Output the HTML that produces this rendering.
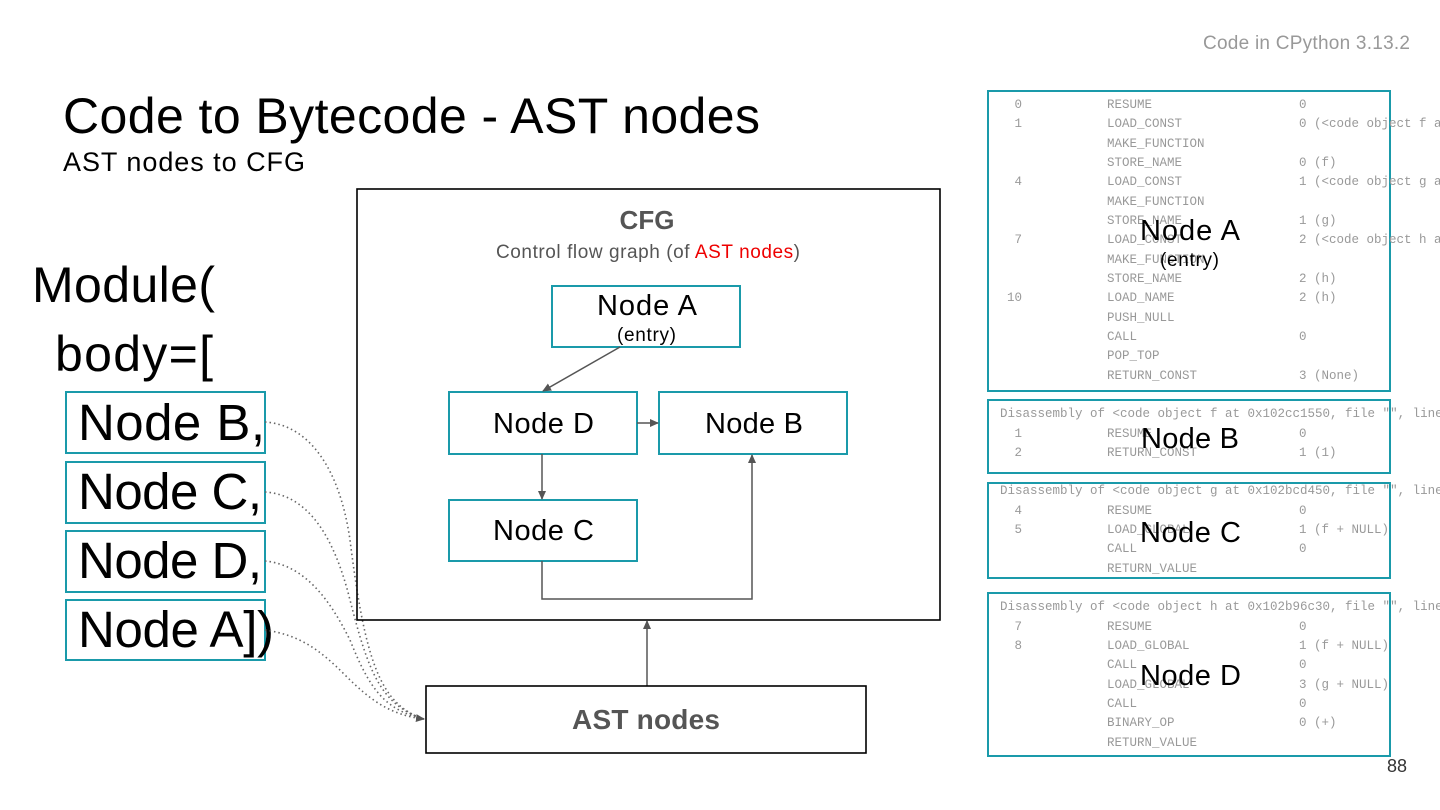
<!DOCTYPE html>
<html><head><meta charset="utf-8"><style>
html,body{margin:0;padding:0;background:#fff;}
svg{display:block;}
.c{font-family:"Liberation Mono",monospace;font-size:12.5px;fill:#999;}
.s{font-family:"Liberation Sans",sans-serif;}
</style></head><body>
<svg width="1440" height="810" viewBox="0 0 1440 810" xmlns="http://www.w3.org/2000/svg">
<defs>
<marker id="ar" markerWidth="10" markerHeight="10" refX="8" refY="5" orient="auto" markerUnits="userSpaceOnUse"><path d="M0,1 L9,5 L0,9 z" fill="#555"/></marker>
</defs>
<text class="s" x="1203" y="49" font-size="19" fill="#999" textLength="207">Code in CPython 3.13.2</text>
<text class="s" x="63" y="133" font-size="50" fill="#000" textLength="697">Code to Bytecode - AST nodes</text>
<text class="s" x="63" y="171" font-size="27" fill="#000" textLength="242">AST nodes to CFG</text>

<text class="s" x="32" y="302" font-size="50" textLength="183">Module(</text>
<text class="s" x="55" y="371" font-size="50" textLength="158">body=[</text>
<g fill="none" stroke="#1a9aaa" stroke-width="2">
<rect x="66" y="392" width="199" height="61"/>
<rect x="66" y="462" width="199" height="61"/>
<rect x="66" y="531" width="199" height="61"/>
<rect x="66" y="600" width="199" height="60"/>
</g>
<text class="s" x="78" y="440" font-size="51" textLength="187">Node B,</text>
<text class="s" x="78" y="509" font-size="51" textLength="184">Node C,</text>
<text class="s" x="78" y="578" font-size="51" textLength="184">Node D,</text>
<text class="s" x="78" y="647" font-size="51" textLength="196">Node A])</text>

<g fill="none" stroke="#666" stroke-width="1.6" stroke-dasharray="1.5,3">
<path d="M265,422 C310,425 340,470 350,540 C365,660 380,705 424,719"/>
<path d="M265,492 C310,495 335,540 350,600 C368,670 380,705 424,719"/>
<path d="M265,561 C305,565 330,600 350,640 C370,690 385,710 424,719"/>
<path d="M265,630 C300,635 320,650 345,675 C370,700 390,715 424,719" marker-end="url(#ar)"/>
</g>

<rect x="357" y="189" width="583" height="431" fill="none" stroke="#000" stroke-width="1.6"/>
<text class="s" x="647" y="229" text-anchor="middle" font-size="26" font-weight="bold" fill="#555">CFG</text>
<text class="s" x="496" y="258" font-size="19" fill="#555" textLength="304">Control flow graph (of <tspan fill="#e00">AST nodes</tspan>)</text>
<g fill="none" stroke="#1a9aaa" stroke-width="2">
<rect x="552" y="286" width="188" height="61"/>
<rect x="449" y="392" width="188" height="62"/>
<rect x="659" y="392" width="188" height="62"/>
<rect x="449" y="500" width="188" height="61"/>
</g>
<text class="s" x="597" y="315" font-size="29" textLength="100">Node A</text>
<text class="s" x="617" y="341" font-size="19" textLength="59">(entry)</text>
<text class="s" x="493" y="433" font-size="29" textLength="101">Node D</text>
<text class="s" x="705" y="433" font-size="29" textLength="98">Node B</text>
<text class="s" x="493" y="540" font-size="29" textLength="101">Node C</text>
<g fill="none" stroke="#555" stroke-width="1.5">
<path d="M620,347 L543,391" marker-end="url(#ar)"/>
<path d="M637,423 L658,423" marker-end="url(#ar)"/>
<path d="M542,454 L542,499" marker-end="url(#ar)"/>
<path d="M542,561 L542,599 L752,599 L752,455" marker-end="url(#ar)"/>
<path d="M647,686 L647,621" marker-end="url(#ar)"/>
</g>
<rect x="426" y="686" width="440" height="67" fill="none" stroke="#000" stroke-width="1.6"/>
<text class="s" x="572" y="729" font-size="28" font-weight="bold" fill="#555" textLength="148">AST nodes</text>

<g fill="none" stroke="#1a9aaa" stroke-width="2">
<rect x="988" y="91" width="402" height="300"/>
<rect x="988" y="400" width="402" height="73"/>
<rect x="988" y="483" width="402" height="95"/>
<rect x="988" y="593" width="402" height="163"/>
</g>
<g class="c">
<text x="1022" y="108" text-anchor="end">0</text><text x="1107" y="108">RESUME</text><text x="1299" y="108">0</text>
<text x="1022" y="127" text-anchor="end">1</text><text x="1107" y="127">LOAD_CONST</text><text x="1299" y="127">0 (&lt;code object f at</text>
<text x="1107" y="147">MAKE_FUNCTION</text>
<text x="1107" y="166">STORE_NAME</text><text x="1299" y="166">0 (f)</text>
<text x="1022" y="185" text-anchor="end">4</text><text x="1107" y="185">LOAD_CONST</text><text x="1299" y="185">1 (&lt;code object g at</text>
<text x="1107" y="205">MAKE_FUNCTION</text>
<text x="1107" y="224">STORE_NAME</text><text x="1299" y="224">1 (g)</text>
<text x="1022" y="243" text-anchor="end">7</text><text x="1107" y="243">LOAD_CONST</text><text x="1299" y="243">2 (&lt;code object h at</text>
<text x="1107" y="263">MAKE_FUNCTION</text>
<text x="1107" y="282">STORE_NAME</text><text x="1299" y="282">2 (h)</text>
<text x="1022" y="301" text-anchor="end">10</text><text x="1107" y="301">LOAD_NAME</text><text x="1299" y="301">2 (h)</text>
<text x="1107" y="321">PUSH_NULL</text>
<text x="1107" y="340">CALL</text><text x="1299" y="340">0</text>
<text x="1107" y="359">POP_TOP</text>
<text x="1107" y="379">RETURN_CONST</text><text x="1299" y="379">3 (None)</text>

<text x="1000" y="417">Disassembly of &lt;code object f at 0x102cc1550, file "", line</text>
<text x="1022" y="437" text-anchor="end">1</text><text x="1107" y="437">RESUME</text><text x="1299" y="437">0</text>
<text x="1022" y="456" text-anchor="end">2</text><text x="1107" y="456">RETURN_CONST</text><text x="1299" y="456">1 (1)</text>

<text x="1000" y="494">Disassembly of &lt;code object g at 0x102bcd450, file "", line</text>
<text x="1022" y="514" text-anchor="end">4</text><text x="1107" y="514">RESUME</text><text x="1299" y="514">0</text>
<text x="1022" y="533" text-anchor="end">5</text><text x="1107" y="533">LOAD_GLOBAL</text><text x="1299" y="533">1 (f + NULL)</text>
<text x="1107" y="552">CALL</text><text x="1299" y="552">0</text>
<text x="1107" y="572">RETURN_VALUE</text>

<text x="1000" y="610">Disassembly of &lt;code object h at 0x102b96c30, file "", line</text>
<text x="1022" y="630" text-anchor="end">7</text><text x="1107" y="630">RESUME</text><text x="1299" y="630">0</text>
<text x="1022" y="649" text-anchor="end">8</text><text x="1107" y="649">LOAD_GLOBAL</text><text x="1299" y="649">1 (f + NULL)</text>
<text x="1107" y="668">CALL</text><text x="1299" y="668">0</text>
<text x="1107" y="688">LOAD_GLOBAL</text><text x="1299" y="688">3 (g + NULL)</text>
<text x="1107" y="707">CALL</text><text x="1299" y="707">0</text>
<text x="1107" y="726">BINARY_OP</text><text x="1299" y="726">0 (+)</text>
<text x="1107" y="746">RETURN_VALUE</text>
</g>
<text class="s" x="1140" y="240" font-size="29" textLength="100">Node A</text>
<text class="s" x="1160" y="266" font-size="19" textLength="59">(entry)</text>
<text class="s" x="1141" y="448" font-size="29" textLength="98">Node B</text>
<text class="s" x="1140" y="542" font-size="29" textLength="101">Node C</text>
<text class="s" x="1140" y="685" font-size="29" textLength="101">Node D</text>
<text class="s" x="1407" y="772" text-anchor="end" font-size="18" fill="#333">88</text>
</svg>
</body></html>
